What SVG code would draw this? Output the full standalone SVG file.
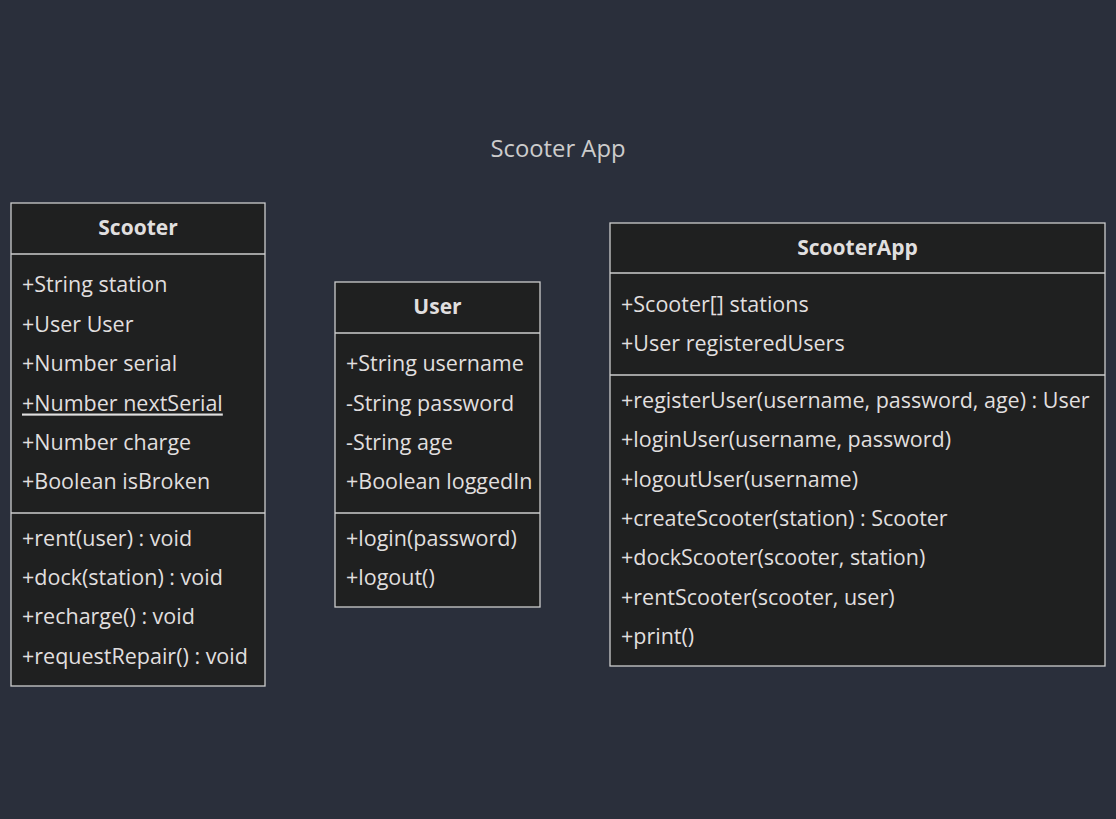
<svg xmlns="http://www.w3.org/2000/svg" width="1116" height="819" viewBox="0 0 1116 819">
<style>
.bg{fill:#2a2f3b}
.box{fill:#1f2020;stroke:#cccccc;stroke-width:1.3}
.sep{stroke:#cccccc;stroke-width:1.3}
text{font-family:"Open Sans","Noto Sans",sans-serif;fill:#e0dfdf;font-size:21.5px;dominant-baseline:central}
.title{font-weight:bold;text-anchor:middle;font-size:21px}
.dtitle{fill:#cccccc;font-size:23.8px;text-anchor:middle}
.u{text-decoration:underline}
</style>
<rect class="bg" x="0" y="0" width="1116" height="819"/>
<text class="dtitle" x="558" y="148">Scooter App</text>
<g id="Scooter">
<rect class="box" x="11" y="203" width="254" height="483"/>
<line class="sep" x1="11" y1="254" x2="265" y2="254"/>
<line class="sep" x1="11" y1="513" x2="265" y2="513"/>
<text class="title" x="138" y="227">Scooter</text>
<text x="22" y="283">+String station</text>
<text x="22" y="323">+User User</text>
<text x="22" y="362">+Number serial</text>
<text x="22" y="402" class="u">+Number nextSerial</text>
<text x="22" y="441">+Number charge</text>
<text x="22" y="480">+Boolean isBroken</text>
<text x="22" y="537">+rent(user) : void</text>
<text x="22" y="576">+dock(station) : void</text>
<text x="22" y="615">+recharge() : void</text>
<text x="22" y="655">+requestRepair() : void</text>
</g>
<g id="User">
<rect class="box" x="335" y="282" width="205" height="325"/>
<line class="sep" x1="335" y1="333" x2="540" y2="333"/>
<line class="sep" x1="335" y1="513" x2="540" y2="513"/>
<text class="title" x="437.5" y="306">User</text>
<text x="346" y="362">+String username</text>
<text x="346" y="402">-String password</text>
<text x="346" y="441">-String age</text>
<text x="346" y="480">+Boolean loggedIn</text>
<text x="346" y="537">+login(password)</text>
<text x="346" y="576">+logout()</text>
</g>
<g id="ScooterApp">
<rect class="box" x="610" y="223" width="495" height="443"/>
<line class="sep" x1="610" y1="273" x2="1105" y2="273"/>
<line class="sep" x1="610" y1="375" x2="1105" y2="375"/>
<text class="title" x="857.5" y="247">ScooterApp</text>
<text x="621" y="303">+Scooter[] stations</text>
<text x="621" y="342">+User registeredUsers</text>
<text x="621" y="399">+registerUser(username, password, age) : User</text>
<text x="621" y="438">+loginUser(username, password)</text>
<text x="621" y="478">+logoutUser(username)</text>
<text x="621" y="517">+createScooter(station) : Scooter</text>
<text x="621" y="556">+dockScooter(scooter, station)</text>
<text x="621" y="596">+rentScooter(scooter, user)</text>
<text x="621" y="635">+print()</text>
</g>
<g id="connectors"></g>
</svg>
